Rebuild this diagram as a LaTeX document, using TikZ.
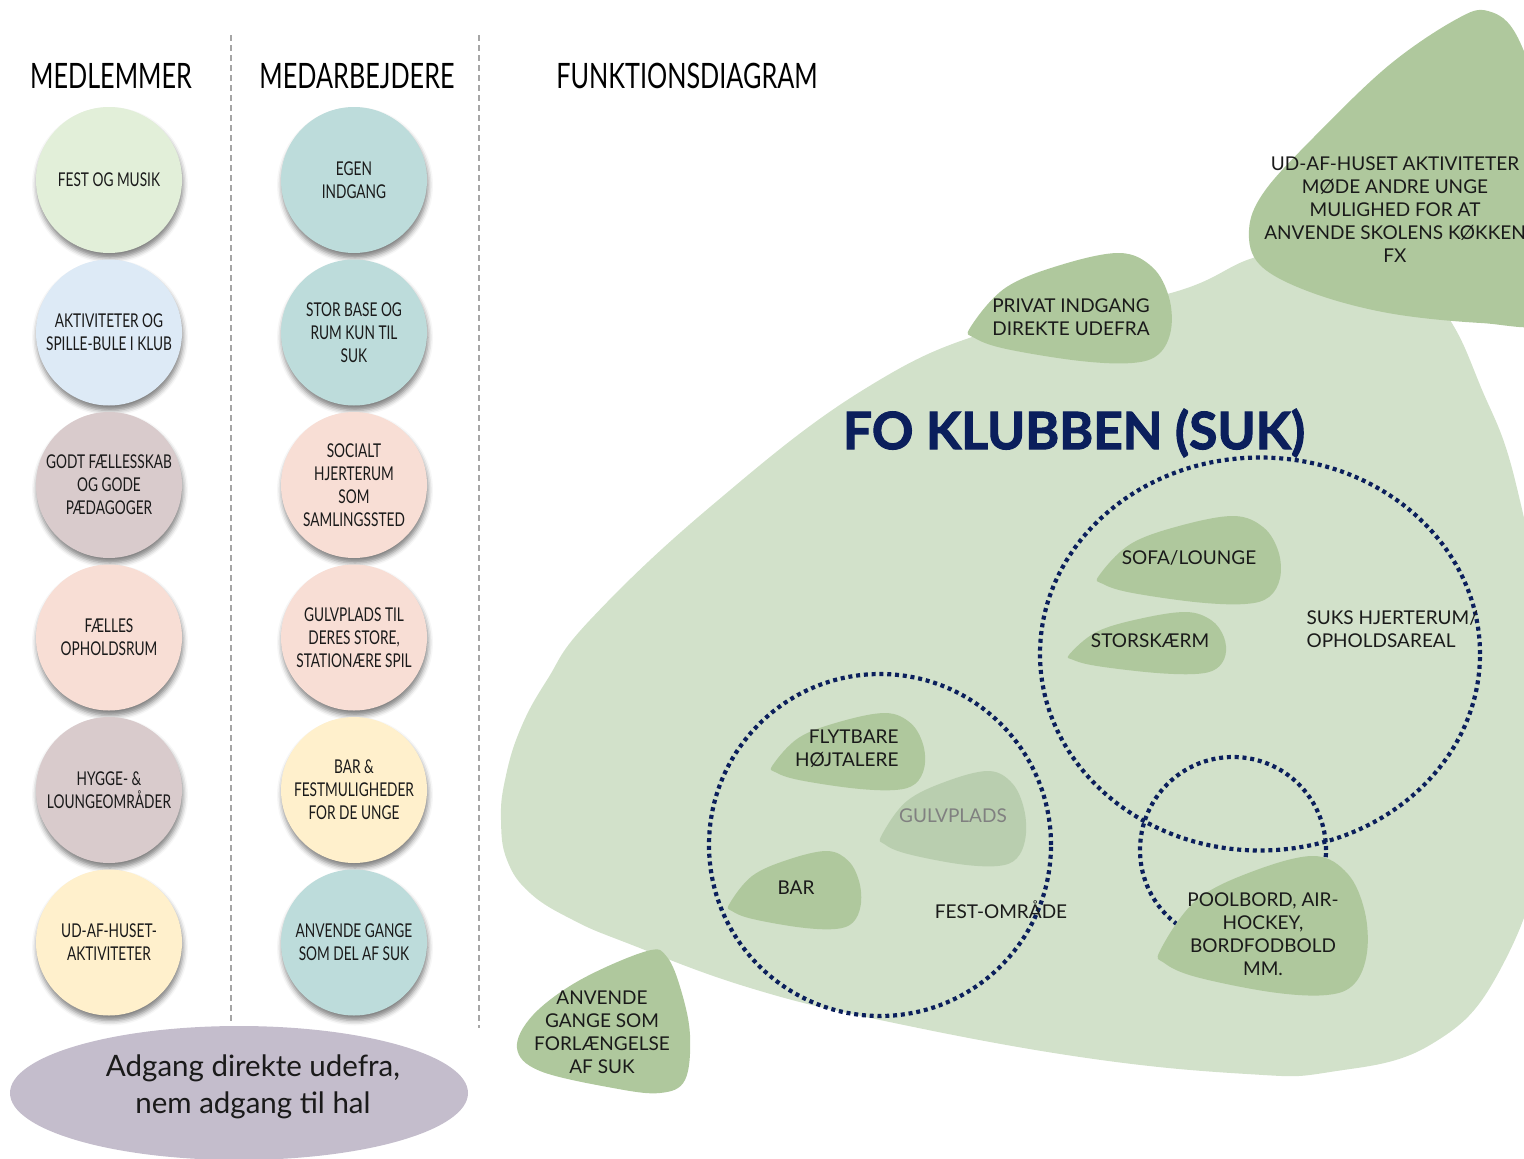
\documentclass[tikz,border=0pt]{standalone}
\usepackage{fontspec}
\setmainfont{Lato}
\newfontfamily\narrowfont[FakeStretch=0.72]{Lato}
\newfontfamily\heavyfont[BoldFeatures={FakeBold=2}]{Lato}
\usepackage{tikz}
\usetikzlibrary{positioning, shapes.geometric, shadows.blur}

\definecolor{festgreen}{HTML}{E2EFD9}
\definecolor{skyblue}{HTML}{DDEAF6}
\definecolor{mauve}{HTML}{D9CBCC}
\definecolor{peach}{HTML}{F8DED5}
\definecolor{cream}{HTML}{FFF0CC}
\definecolor{aqua}{HTML}{BDDCDB}
\definecolor{lavender}{HTML}{C4BDCC}
\definecolor{clubgreen}{HTML}{D2E1CA}
\definecolor{blobgreen}{HTML}{AFC89D}
\definecolor{floorgreen}{HTML}{B9CEAF}
\definecolor{navy}{HTML}{0B1F5C}
\definecolor{ink}{HTML}{1A1A1A}

% rundet draabe-form: #2,#3 = oeverste venstre hjoerne, #4 x #5 = stoerrelse
\newcommand{\blob}[5][blobgreen]{%
  \fill[#1,shift={(#2,#3)},xscale=#4,yscale=#5] plot[smooth cycle,tension=0.6]
    coordinates {(0.01,0.68) (0.18,0.32) (0.45,0.11) (0.74,0) (0.9,0.13) (0.98,0.4)
                 (0.99,0.7) (0.93,0.92) (0.8,1) (0.54,0.98) (0.18,0.87) (0.03,0.77)};}

\begin{document}
\begin{tikzpicture}[x=1pt,y=-1pt,node distance=152.5pt]
    \tikzstyle{bubble}=[circle,minimum size=146pt,inner sep=0pt,align=center,text=ink,
        font=\narrowfont\fontsize{19}{23}\selectfont,
        blur shadow={shadow xshift=1pt,shadow yshift=-5pt,shadow blur radius=5pt,shadow opacity=50}]
    \tikzstyle{header}=[font=\narrowfont\fontsize{35}{40}\selectfont,text=black]
    \tikzstyle{area}=[align=center,text=ink,font=\fontsize{19}{23}\selectfont]
    \tikzstyle{zone}=[draw=navy,line width=4.2pt,dash pattern=on 4pt off 3.8pt,inner sep=0pt]
    \tikzstyle{divider}=[draw=gray!70,line width=1.2pt,dash pattern=on 6pt off 4pt]

    \useasboundingbox (0,0) rectangle (1524,1159);

    \node[header] (medl) at (111,76) {MEDLEMMER};
    \node[header] (meda) at (357,76) {MEDARBEJDERE};
    \node[header] (funk) at (687,76) {FUNKTIONSDIAGRAM};

    \coordinate (div1top) at (231,35);
    \coordinate (div1bot) at (231,1022);
    \coordinate (div2top) at (479,35);
    \coordinate (div2bot) at (479,1028);
    \draw[divider] (div1top) -- (div1bot);
    \draw[divider] (div2top) -- (div2bot);

    % medlemmer
    \node[bubble,fill=festgreen] (fest) at (109,180) {FEST OG MUSIK};
    \node[bubble,fill=skyblue] (akt) [below of=fest] {AKTIVITETER OG\\SPILLE-BULE I KLUB};
    \node[bubble,fill=mauve] (godt) [below of=akt] {GODT FÆLLESSKAB\\OG GODE\\PÆDAGOGER};
    \node[bubble,fill=peach] (faelles) [below of=godt] {FÆLLES\\OPHOLDSRUM};
    \node[bubble,fill=mauve] (hygge) [below of=faelles] {HYGGE- \&\\LOUNGEOMRÅDER};
    \node[bubble,fill=cream] (udaf) [below of=hygge] {UD-AF-HUSET-\\AKTIVITETER};

    % medarbejdere
    \node[bubble,fill=aqua] (egen) at (354,180) {EGEN\\INDGANG};
    \node[bubble,fill=aqua] (base) [below of=egen] {STOR BASE OG\\RUM KUN TIL\\SUK};
    \node[bubble,fill=peach] (social) [below of=base] {SOCIALT\\HJERTERUM\\SOM\\SAMLINGSSTED};
    \node[bubble,fill=peach] (gulvspil) [below of=social] {GULVPLADS TIL\\DERES STORE,\\STATIONÆRE SPIL};
    \node[bubble,fill=cream] (barfest) [below of=gulvspil] {BAR \&\\FESTMULIGHEDER\\FOR DE UNGE};
    \node[bubble,fill=aqua] (gangedel) [below of=barfest] {ANVENDE GANGE\\SOM DEL AF SUK};

    \node[ellipse,fill=lavender,minimum width=458pt,minimum height=134pt] (adgang) at (239,1093) {};
    \node[align=center,text=ink,font=\fontsize{29.5}{37.5}\selectfont] (adgangtekst) at (253,1087)
          {Adgang direkte udefra,\\nem adgang til hal};

    % funktionsdiagram
    \fill[clubgreen] plot[smooth cycle,tension=0.7] coordinates {(501,820) (507,860) (530,893)
        (573,920) (627,943) (747,987) (880,1020) (1080,1057) (1247,1074) (1330,1072) (1430,1045)
        (1500,970) (1545,830) (1545,650) (1515,480) (1480,385) (1450,320) (1412,276) (1345,250)
        (1260,256) (1171,293) (1000,328) (863,390) (710,507) (590,620) (547,680) (520,730) (505,780)};

    \blob{968}{253}{205}{110}
    \fill[blobgreen] plot[smooth cycle,tension=0.6] coordinates {(1488,11) (1518,38) (1548,130)
        (1570,260) (1548,322) (1481,323) (1388,313) (1310,292) (1260,265) (1249,230) (1264,192)
        (1313,138) (1388,66) (1455,20)};
    \fill[blobgreen] plot[smooth cycle,tension=0.6] coordinates {(647,951) (667,957) (681,990)
        (690,1035) (685,1080) (660,1093) (613,1088) (540,1071) (517,1048) (533,1015) (580,980)};
    \blob{1097}{516}{185}{88}
    \blob{1068}{612}{159}{62}
    \blob{771}{713}{155}{77}
    \blob[floorgreen]{880}{771}{147}{95}
    \blob{728}{851}{134}{78}

    \node[zone,circle,minimum size=342pt] (festzone) at (880,845) {};
    \node[zone,ellipse,minimum width=440pt,minimum height=393pt] (hjertezone) at (1260,654) {};
    \node[zone,circle,minimum size=186pt] (poolzone) at (1233,850) {};
    \blob{1158}{856}{211}{139}

    \node[area] (privat) at (1071,317) {PRIVAT INDGANG\\DIREKTE UDEFRA};
    \node[area] (udafhuset) at (1395,210) {UD-AF-HUSET AKTIVITETER\\MØDE ANDRE UNGE\\MULIGHED FOR AT\\ANVENDE SKOLENS KØKKEN\\FX};
    \node[text=navy,font=\heavyfont\bfseries\fontsize{51.5}{60}\selectfont] (klub) at (1074,433) {FO KLUBBEN (SUK)};
    \node[area] (sofa) at (1189,558) {SOFA/LOUNGE};
    \node[area] (skaerm) at (1150,641) {STORSKÆRM};
    \node[area,align=left,anchor=west] (hjerte) at (1303,629) {SUKS HJERTERUM/\\OPHOLDSAREAL};
    \node[area,align=right,anchor=east] (flyt) at (902,749) {FLYTBARE\\HØJTALERE};
    \node[area,text=gray] (gulv) at (953,816) {GULVPLADS};
    \node[area] (bar) at (796,888) {BAR};
    \node[area] (festomr) at (1001,910) {FEST-OMRÅDE};
    \node[area] (pool) at (1263,934) {POOLBORD, AIR-\\HOCKEY,\\BORDFODBOLD\\MM.};
    \node[area] (gange) at (602,1032) {ANVENDE\\GANGE SOM\\FORLÆNGELSE\\AF SUK};
\end{tikzpicture}
\end{document}
